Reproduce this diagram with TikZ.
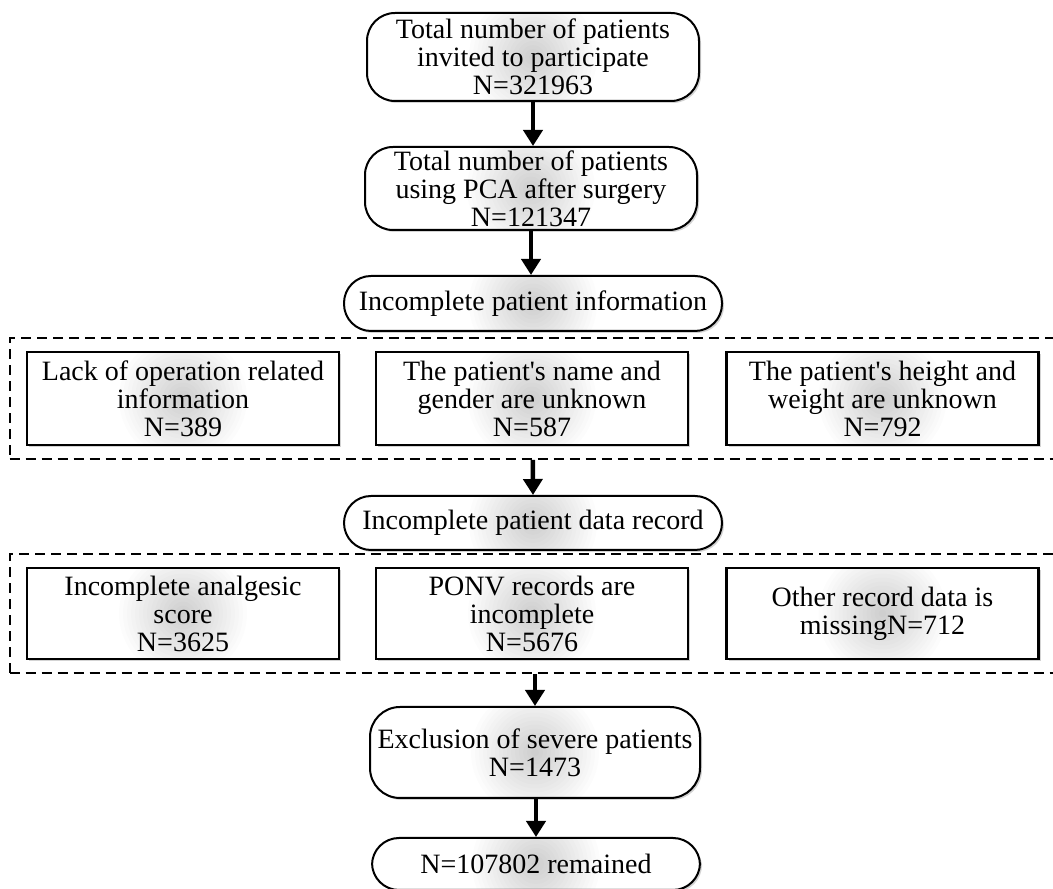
\documentclass[tikz,border=0pt]{standalone}
\usepackage{fontspec}
\setmainfont{Liberation Serif}
\usetikzlibrary{arrows.meta,shadows,fit}

\tikzset{
  glow/.style={path picture={\foreach \r in {64,60,...,4}
      \fill[black, opacity=0.012] (path picture bounding box.center) circle (\r pt);}},
  roundbox/.style={draw, line width=2pt, rounded corners=28pt, fill=white, glow,
      drop shadow={shadow xshift=2pt, shadow yshift=-2pt, opacity=0.35},
      align=center, inner sep=0pt, font=\fontsize{28}{28}\selectfont},
  plainbox/.style={draw, line width=2.6pt, fill=white, glow,
      drop shadow={shadow xshift=2pt, shadow yshift=-2pt, opacity=0.35},
      align=center, inner sep=0pt, minimum width=312pt,
      font=\fontsize{28}{28}\selectfont},
  group/.style={draw, line width=2pt, dash pattern=on 10pt off 6pt,
      inner xsep=16pt, inner ysep=12.5pt},
  arr/.style={line width=4.5pt, -{Triangle[width=19pt,length=16pt]}}
}

\begin{document}
\begin{tikzpicture}[x=1pt,y=1pt]
    \useasboundingbox (0,0) rectangle (1053,889);

    \node[roundbox, minimum width=332pt, minimum height=88pt] (invited) at (533,832)
        {Total number of patients\\invited to participate\\N=321963};
    \node[roundbox, minimum width=332pt, minimum height=83pt] (pca) at (531,700.5)
        {Total number of patients\\using PCA after surgery\\N=121347};
    \node[roundbox, rounded corners=27pt, minimum width=378pt, minimum height=55pt] (info) at (533,585.5)
        {Incomplete patient information};

    % first group
    \node[plainbox, minimum height=93pt] (operation) at (183,490.5)
        {Lack of operation related\\information\\N=389};
    \node[plainbox, minimum height=93pt] (name) at (532,490.5)
        {The patient\textquotesingle s name and\\gender are unknown\\N=587};
    \node[plainbox, minimum height=93pt] (height) at (882.5,490.5)
        {The patient\textquotesingle s height and\\weight are unknown\\N=792};
    \node[group, fit=(operation)(name)(height)] (infogroup) {};

    \node[roundbox, rounded corners=27pt, minimum width=378pt, minimum height=54pt] (record) at (533,366)
        {Incomplete patient data record};

    % second group
    \node[plainbox, minimum height=91pt] (score) at (183,275.5)
        {Incomplete analgesic\\score\\N=3625};
    \node[plainbox, minimum height=91pt] (ponv) at (532,275.5)
        {PONV records are\\incomplete\\N=5676};
    \node[plainbox, minimum height=91pt] (other) at (882.5,275.5)
        {Other record data is\\missingN=712};
    \node[group, fit=(score)(ponv)(other)] (recordgroup) {};

    \node[roundbox, rounded corners=30pt, minimum width=330pt, minimum height=91pt] (severe) at (535,136.5)
        {Exclusion of severe patients\\N=1473};
    \node[roundbox, rounded corners=27pt, minimum width=328pt, minimum height=52pt] (remained) at (536,25)
        {N=107802 remained};

    % arrows
    \draw[arr] (invited.south) -- (invited.south |- pca.north);
    \draw[arr] (pca.south) -- (pca.south |- info.north);
    \draw[arr] (infogroup.south) -- (record.north);
    \draw[arr] (severe.north |- recordgroup.south) -- (severe.north);
    \draw[arr] (remained.north |- severe.south) -- (remained.north);
\end{tikzpicture}
\end{document}
